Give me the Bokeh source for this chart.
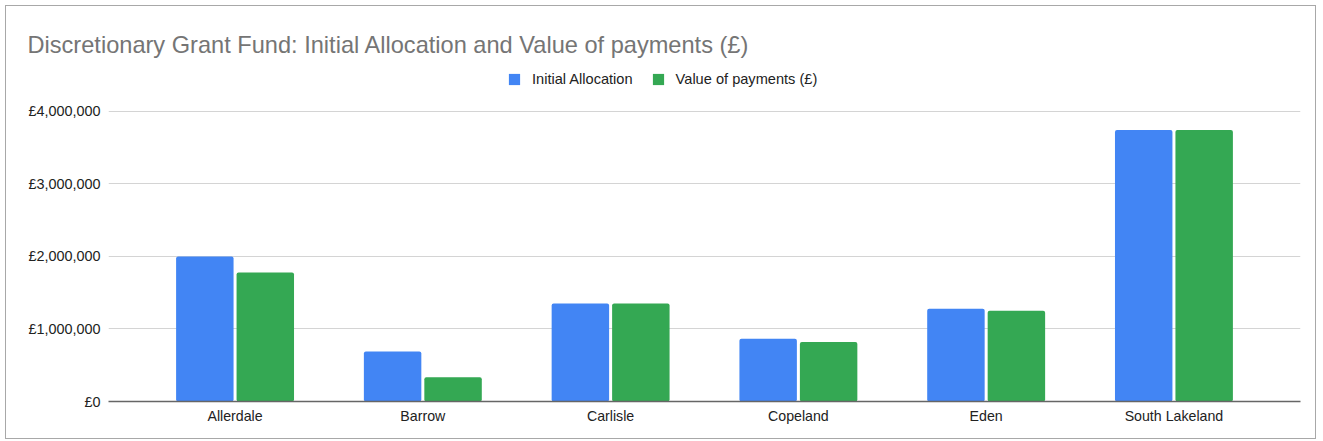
from bokeh.plotting import figure
from bokeh.models import (ColumnDataSource, FactorRange, Range1d, FixedTicker,
                          Legend, LegendItem)
from bokeh.transform import dodge
from bokeh.embed import file_html
from bokeh.resources import INLINE

# ---- data ----
districts = ["Allerdale", "Barrow", "Carlisle", "Copeland", "Eden", "South Lakeland"]
initial_allocation = [2000000, 690000, 1350000, 865000, 1280000, 3745000]
value_of_payments = [1780000, 335000, 1350000, 820000, 1250000, 3745000]
y_ticks = [0, 1000000, 2000000, 3000000, 4000000]
y_tick_labels = ["£0", "£1,000,000", "£2,000,000", "£3,000,000", "£4,000,000"]
series_names = ["Initial Allocation", "Value of payments (£)"]
title_text = "Discretionary Grant Fund: Initial Allocation and Value of payments (£)"

BLUE = "#4285F4"
GREEN = "#34A853"
FONT = "Liberation Sans"

source = ColumnDataSource(data=dict(district=districts,
                                    initial=initial_allocation,
                                    payments=value_of_payments))

# frame extends above the top gridline to leave room for the legend
p = figure(
    x_range=FactorRange(factors=districts, range_padding=0.174,
                        range_padding_units="absolute"),
    y_range=Range1d(0, 4620000),
    width=1311, height=434,
    output_backend="svg", toolbar_location=None,
    min_border_left=102, min_border_right=17,
    min_border_top=60, min_border_bottom=39,
    title=title_text,
)
p.styles = {"border": "1px solid #a8a8a8", "margin": "5px 0 0 5px"}
p.outline_line_color = None
p.background_fill_color = "white"
p.border_fill_color = "white"

r1 = p.vbar(x=dodge("district", -0.161, range=p.x_range), top="initial", width=0.306,
            source=source, color=BLUE, line_color=None, border_radius=2)
r2 = p.vbar(x=dodge("district", 0.161, range=p.x_range), top="payments", width=0.306,
            source=source, color=GREEN, line_color=None, border_radius=2)

# axes
p.yaxis.ticker = FixedTicker(ticks=y_ticks)
p.yaxis.major_label_overrides = {t: l for t, l in zip(y_ticks, y_tick_labels)}
p.yaxis.axis_line_color = None
p.yaxis.major_tick_line_color = None
p.yaxis.minor_tick_line_color = None
p.yaxis.major_tick_out = 0
p.yaxis.major_tick_in = 0
p.yaxis.major_label_standoff = 8
p.yaxis.major_label_text_font = FONT
p.yaxis.major_label_text_font_size = "14.4px"
p.yaxis.major_label_text_color = "#222222"

p.xaxis.axis_line_color = "#666666"
p.xaxis.axis_line_width = 1.5
p.xaxis.major_tick_line_color = None
p.xaxis.minor_tick_line_color = None
p.xaxis.major_tick_out = 0
p.xaxis.major_tick_in = 0
p.xaxis.major_label_standoff = 6
p.xaxis.major_label_text_font = FONT
p.xaxis.major_label_text_font_size = "14.2px"
p.xaxis.major_label_text_color = "#222222"

p.xgrid.grid_line_color = None
p.ygrid.grid_line_color = "#d4d4d4"
p.ygrid.grid_line_width = 1
p.ygrid.ticker = FixedTicker(ticks=y_ticks)

# title
p.title.text_font = FONT
p.title.text_font_size = "23.6px"
p.title.text_font_style = "normal"
p.title.text_color = "#757575"
p.title.align = "left"
p.title.offset = -81
p.title.standoff = 18

# legend (inside the frame, above the top gridline)
legend = Legend(items=[LegendItem(label=series_names[0], renderers=[r1]),
                       LegendItem(label=series_names[1], renderers=[r2])],
                location=(399, 314), orientation="horizontal",
                padding=0, margin=0, spacing=18,
                glyph_width=14, glyph_height=14, label_standoff=11,
                label_text_font=FONT, label_text_font_size="14.6px",
                label_text_color="#222222", label_height=16,
                border_line_color=None, background_fill_alpha=0)
p.add_layout(legend, "center")

open("out.html", "w").write(file_html(p, INLINE))
